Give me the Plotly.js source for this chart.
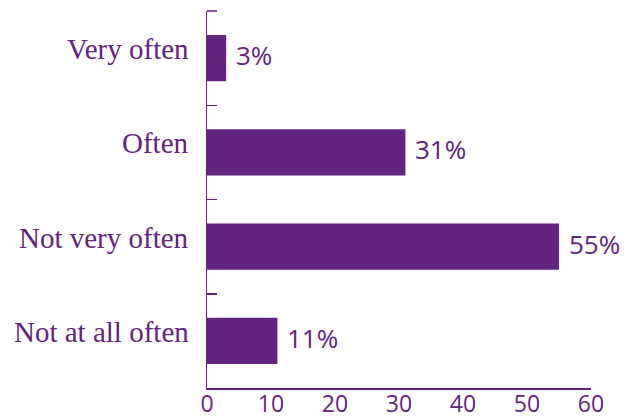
<!DOCTYPE html>
<html>
<head>
<meta charset="utf-8">
<script src="https://cdn.plot.ly/plotly-3.0.1.min.js"></script>
<style>html,body{margin:0;padding:0;background:#fff;}#chart{width:626px;height:418px;}</style>
</head>
<body>
<div id="chart"></div>
<script>
const categories = ["Very often", "Often", "Not very often", "Not at all often"];
const values = [3, 31, 55, 11];
const valueLabels = ["3%", "31%", "55%", "11%"];
const xTickValues = [0, 10, 20, 30, 40, 50, 60];

const purple = "#62247d";

const trace = {
  type: "bar",
  orientation: "h",
  x: values,
  y: categories,
  width: 0.49,
  marker: {color: purple, line: {width: 0}},
  hoverinfo: "none"
};

const annotations = [];
categories.forEach((c, i) => {
  annotations.push({
    xref: "paper", yref: "y", x: 0, y: c,
    text: c, showarrow: false, xanchor: "right", yanchor: "middle",
    xshift: -16, yshift: 9,
    font: {family: "Liberation Serif", size: 29, color: purple}
  });
  annotations.push({
    xref: "x", yref: "y", x: values[i], y: c,
    text: valueLabels[i], showarrow: false, xanchor: "left", yanchor: "middle",
    xshift: 8, yshift: 3,
    font: {family: "Open Sans", size: 26, color: purple}
  });
});

const layout = {
  width: 626, height: 418,
  margin: {l: 207, r: 35, t: 11, b: 30, pad: 0},
  paper_bgcolor: "#fff", plot_bgcolor: "#fff",
  showlegend: false,
  xaxis: {
    range: [0, 60], tickvals: xTickValues, ticks: "", showgrid: false, zeroline: false,
    showline: true, linecolor: purple, linewidth: 1.5,
    tickfont: {family: "Open Sans", size: 23, color: purple},
    ticklabelstandoff: -5,
    fixedrange: true
  },
  yaxis: {
    type: "category", categoryorder: "array", categoryarray: categories,
    autorange: "reversed",
    showticklabels: false, ticks: "inside", tickson: "boundaries", ticklen: 10,
    tickcolor: purple, tickwidth: 1.5,
    showgrid: false, zeroline: false,
    showline: true, linecolor: purple, linewidth: 1.5,
    fixedrange: true
  },
  shapes: [{
    type: "line", xref: "x", yref: "paper", xsizemode: "pixel", xanchor: 0,
    x0: 0, x1: 10, y0: 1, y1: 1,
    line: {color: purple, width: 1.5}
  }],
  annotations: annotations
};

Plotly.newPlot("chart", [trace], layout, {staticPlot: true, displayModeBar: false});
</script>
</body>
</html>
